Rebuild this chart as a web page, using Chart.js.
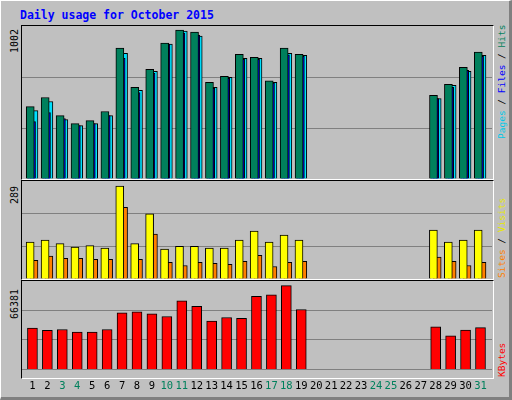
<!DOCTYPE html>
<html><head><meta charset="utf-8">
<script src="https://cdn.jsdelivr.net/npm/chart.js@4"></script>
<style>
body{margin:0;width:512px;height:400px;overflow:hidden;background:#fff}
#f{position:absolute;left:0;top:0;width:508px;height:396px;background:#c0c0c0;border-top:1px solid #fff;border-left:1px solid #fff;border-right:3px solid #808080;border-bottom:3px solid #808080;box-sizing:content-box}
.p{position:absolute;left:20px;width:471px;border-top:1px solid #000;border-left:1px solid #000;border-right:1px solid #fff;border-bottom:1px solid #fff}
.t{position:absolute;font-family:"DejaVu Sans Mono",monospace;font-size:10px;white-space:nowrap}
.r{transform-origin:0 0;transform:rotate(-90deg)}
canvas{position:absolute}
</style></head><body>
<div id="f">
<div class="t" style="left:19px;top:7px;color:#0000ff;font-weight:bold;font-size:11.5px">Daily usage for October 2015</div>
<div class="p" style="top:24px;height:153px"></div>
<div class="p" style="top:179px;height:98px"></div>
<div class="p" style="top:279px;height:97px"></div>
<div class="t r" style="left:8px;top:52px">1002</div>
<div class="t r" style="left:8px;top:203px">289</div>
<div class="t r" style="left:8px;top:318px">66381</div>
<div class="t r" style="left:495px;top:138px;font-size:9.5px"><span style="color:#00c8e8">Pages</span> / <span style="color:#0000ff">Files</span> / <span style="color:#00805c">Hits</span></div>
<div class="t r" style="left:495px;top:277px;font-size:9.5px"><span style="color:#ff8000">Sites</span> / <span style="color:#e8e800">Visits</span></div>
<div class="t r" style="left:495px;top:376px;font-size:9.5px;color:#ff0000">KBytes</div>
<canvas id="c1" style="left:21px;top:25px;width:470px;height:153px"></canvas>
<canvas id="c2" style="left:21px;top:180px;width:470px;height:98px"></canvas>
<canvas id="c3" style="left:21px;top:280px;width:470px;height:115px"></canvas>
</div>
<script>
const days=[1,2,3,4,5,6,7,8,9,10,11,12,13,14,15,16,17,18,19,20,21,22,23,24,25,26,27,28,29,30,31];
const weekend=[3,4,10,11,17,18,24,25,31];
const N=null;
const hits=[487,548,426,372,393,454,880,616,738,914,1002,988,650,690,839,819,660,880,839,N,N,N,N,N,N,N,N,562,636,751,853];
const files=[386,447,406,359,372,426,812,582,711,907,982,968,609,677,805,805,645,835,825,N,N,N,N,N,N,N,N,541,616,731,825];
const pages=[460,521,399,359,372,426,846,596,724,907,995,961,616,684,812,812,650,846,832,N,N,N,N,N,N,N,N,541,630,724,832];
const sites=[115,121,110,99,104,96,289,110,203,93,102,102,96,96,121,149,115,137,121,N,N,N,N,N,N,N,N,152,115,121,152];
const visits=[58,71,64,64,61,61,223,61,140,52,42,52,49,46,55,74,39,52,55,N,N,N,N,N,N,N,N,68,55,42,52];
const kbytes=[32800,30900,31600,29500,29500,31600,44800,45500,44100,41900,54200,49900,38200,41100,40400,57900,59000,66381,47400,N,N,N,N,N,N,N,N,33800,26500,31100,33100];
const pts=a=>days.map((d,i)=>({x:d,y:a[i]}));
const PX=14.93, MIN=0.2, MAX=31.67;
const ds=(a,c,w,ax)=>({data:pts(a),backgroundColor:c,borderColor:'#000',borderWidth:1,barThickness:w,grouped:false,xAxisID:ax});
function xax(off,show){
 return {type:'linear',min:MIN-off/PX,max:MAX-off/PX,offset:false,display:show,
  grid:{display:false},border:{display:false},
  afterBuildTicks:ax=>{ax.ticks=days.map(v=>({value:v}));},
  ticks:{autoSkip:false,maxRotation:0,padding:3,font:{family:'DejaVu Sans Mono',size:10.5},
   color:c=>weekend.includes(c.tick.value)?'#00805c':'#000',callback:v=>String(v)}};
}
function mk(id,sets,ymax,axes){
 const scales={y:{min:0,max:ymax,afterBuildTicks:ax=>{ax.ticks=[0,ymax/3,2*ymax/3].map(v=>({value:v}));},
   ticks:{display:false},grid:{color:'#808080',lineWidth:1,drawTicks:false},border:{display:false}}};
 Object.assign(scales,axes);
 new Chart(document.getElementById(id),{type:'bar',data:{datasets:sets},
 options:{responsive:false,animation:false,devicePixelRatio:1,
  plugins:{legend:{display:false},tooltip:{enabled:false}},layout:{padding:0},scales}});
}
const c1=document.getElementById('c1');c1.width=470;c1.height=153;
const c2=document.getElementById('c2');c2.width=470;c2.height=98;
const c3=document.getElementById('c3');c3.width=470;c3.height=115;
mk('c1',[ds(hits,'#00805c',8,'xh'),ds(files,'#0000ff',8,'xf'),ds(pages,'#00e0ff',8,'xp')],1029,
 {xh:xax(-3.7,false),xf:xax(-2.4,false),xp:xax(0,false)});
mk('c2',[ds(sites,'#ffff00',8,'xs'),ds(visits,'#ff8000',8,'xv')],305,
 {xs:xax(-3.8,false),xv:xax(0,false)});
mk('c3',[ds(kbytes,'#ff0000',10,'x')],70000,{x:xax(-1.5,true)});
</script>
</body></html>
